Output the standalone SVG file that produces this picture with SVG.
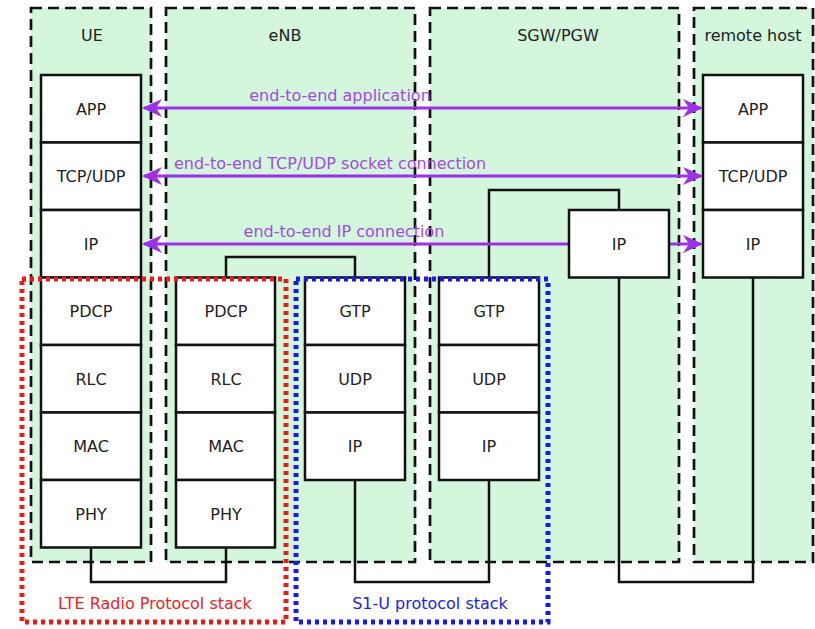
<svg xmlns="http://www.w3.org/2000/svg" width="815" height="629" viewBox="0 0 815 629">
<style>
  .cont { fill: #d3f6dc; stroke: #111; stroke-width: 2.7; stroke-dasharray: 11 6; }
  .title { font-family: "DejaVu Sans", sans-serif; font-size: 16px; fill: #222; text-anchor: middle; }
  .box { fill: #fff; stroke: #111; stroke-width: 2.5; }
  .lbl { font-family: "DejaVu Sans", sans-serif; font-size: 16px; fill: #222; text-anchor: middle; }
  .conn { fill: none; stroke: #111; stroke-width: 2.5; }
  .arrow { stroke: #9b30e6; stroke-width: 3; fill: none; marker-start: url(#ah); marker-end: url(#ah); }
  .alabel { font-family: "DejaVu Sans", sans-serif; font-size: 16px; fill: #a24ce0; text-anchor: middle; }
  .red { fill: none; stroke: #ee1a1a; stroke-width: 5; stroke-dasharray: 4 4; }
  .blue { fill: none; stroke: #1a1aee; stroke-width: 5; stroke-dasharray: 4 4; }
</style>
<defs>
  <marker id="ah" viewBox="0 0 20 18" refX="18" refY="9" markerWidth="20" markerHeight="18" markerUnits="userSpaceOnUse" orient="auto-start-reverse">
    <path d="M0,0 L20,9 L0,18 L6,9 z" fill="#9b30e6"/>
  </marker>
</defs>

<g id="container-ue">
  <rect class="cont" x="31" y="8" width="120" height="554"/>
  <text class="title" x="92" y="41">UE</text>
</g>
<g id="container-enb">
  <rect class="cont" x="166" y="8" width="249" height="554"/>
  <text class="title" x="285" y="41">eNB</text>
</g>
<g id="container-sgw">
  <rect class="cont" x="430" y="8" width="249" height="554"/>
  <text class="title" x="558" y="41">SGW/PGW</text>
</g>
<g id="container-remote">
  <rect class="cont" x="694" y="8" width="119" height="554"/>
  <text class="title" x="753" y="41">remote host</text>
</g>

<g id="connectors">
  <path class="conn" d="M226,278 V257 H355 V278"/>
  <path class="conn" d="M489,278 V190 H619 V210"/>
  <path class="conn" d="M91,548 V582 H226 V548"/>
  <path class="conn" d="M355,480 V582 H489 V480"/>
  <path class="conn" d="M619,278 V582 H753 V278"/>
  <line class="arrow" x1="144" y1="108" x2="701" y2="108"/>
  <line class="arrow" x1="144" y1="176" x2="701" y2="176"/>
  <line class="arrow" x1="144" y1="244" x2="701" y2="244"/>
</g>

<g id="ue-app"><rect class="box" x="41" y="75" width="100" height="67.5"/><text class="lbl" x="91" y="115">APP</text></g>
<g id="ue-tcp"><rect class="box" x="41" y="142.5" width="100" height="67.5"/><text class="lbl" x="91" y="182">TCP/UDP</text></g>
<g id="ue-ip"><rect class="box" x="41" y="210" width="100" height="67.5"/><text class="lbl" x="91" y="250">IP</text></g>
<g id="ue-pdcp"><rect class="box" x="41" y="277.5" width="100" height="67.5"/><text class="lbl" x="91" y="317">PDCP</text></g>
<g id="ue-rlc"><rect class="box" x="41" y="345" width="100" height="67.5"/><text class="lbl" x="91" y="385">RLC</text></g>
<g id="ue-mac"><rect class="box" x="41" y="412.5" width="100" height="67.5"/><text class="lbl" x="91" y="452">MAC</text></g>
<g id="ue-phy"><rect class="box" x="41" y="480" width="100" height="67.5"/><text class="lbl" x="91" y="520">PHY</text></g>

<g id="enb-pdcp"><rect class="box" x="176" y="277.5" width="99" height="67.5"/><text class="lbl" x="226" y="317">PDCP</text></g>
<g id="enb-rlc"><rect class="box" x="176" y="345" width="99" height="67.5"/><text class="lbl" x="226" y="385">RLC</text></g>
<g id="enb-mac"><rect class="box" x="176" y="412.5" width="99" height="67.5"/><text class="lbl" x="226" y="452">MAC</text></g>
<g id="enb-phy"><rect class="box" x="176" y="480" width="99" height="67.5"/><text class="lbl" x="226" y="520">PHY</text></g>

<g id="enb-gtp"><rect class="box" x="305" y="277.5" width="100" height="67.5"/><text class="lbl" x="355" y="317">GTP</text></g>
<g id="enb-udp"><rect class="box" x="305" y="345" width="100" height="67.5"/><text class="lbl" x="355" y="385">UDP</text></g>
<g id="enb-ip"><rect class="box" x="305" y="412.5" width="100" height="67.5"/><text class="lbl" x="355" y="452">IP</text></g>

<g id="sgw-gtp"><rect class="box" x="439" y="277.5" width="100" height="67.5"/><text class="lbl" x="489" y="317">GTP</text></g>
<g id="sgw-udp"><rect class="box" x="439" y="345" width="100" height="67.5"/><text class="lbl" x="489" y="385">UDP</text></g>
<g id="sgw-ip-low"><rect class="box" x="439" y="412.5" width="100" height="67.5"/><text class="lbl" x="489" y="452">IP</text></g>
<g id="sgw-ip-high"><rect class="box" x="569" y="210" width="100" height="67.5"/><text class="lbl" x="619" y="250">IP</text></g>

<g id="rh-app"><rect class="box" x="703" y="75" width="100" height="67.5"/><text class="lbl" x="753" y="115">APP</text></g>
<g id="rh-tcp"><rect class="box" x="703" y="142.5" width="100" height="67.5"/><text class="lbl" x="753" y="182">TCP/UDP</text></g>
<g id="rh-ip"><rect class="box" x="703" y="210" width="100" height="67.5"/><text class="lbl" x="753" y="250">IP</text></g>

<g id="arrow-labels">
  <text class="alabel" x="340" y="101">end-to-end application</text>
  <text class="alabel" x="330" y="169">end-to-end TCP/UDP socket connection</text>
  <text class="alabel" x="344" y="237">end-to-end IP connection</text>
</g>

<g id="lte-stack">
  <rect class="red" x="22" y="279" width="264" height="343"/>
  <text x="155" y="609" font-family="DejaVu Sans, sans-serif" font-size="16" fill="#ee2222" text-anchor="middle">LTE Radio Protocol stack</text>
</g>
<g id="s1u-stack">
  <rect class="blue" x="296" y="279" width="252" height="343"/>
  <text x="430" y="609" font-family="DejaVu Sans, sans-serif" font-size="16" fill="#2222ee" text-anchor="middle">S1-U protocol stack</text>
</g>
</svg>
